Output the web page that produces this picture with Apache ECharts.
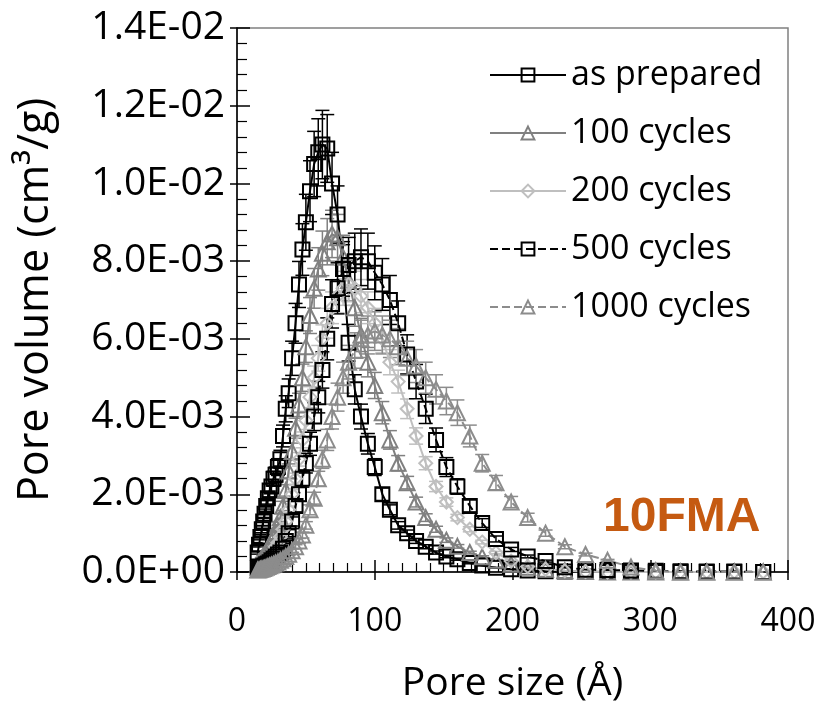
<!DOCTYPE html>
<html><head><meta charset="utf-8">
<script src="https://cdn.jsdelivr.net/npm/echarts@6/dist/echarts.min.js"></script>
<style>html,body{margin:0;padding:0;background:#fff}#c{width:823px;height:703px}</style>
</head><body><div id="c"></div><script>
const poreSize = [15,16,17,18,19,20,21.2,22.4,23.7,25,26.5,28,29.7,31.5,33.4,35.4,37.5,40,42.5,45,47.5,50,53,56,59,62,65.5,69,73,77,81,85.5,90,95,100,105.5,111,117,123.5,130,137,144.5,152,160,169,178,188,199,211,224,238,253,269,286,304,322,341,361,382];
const asPrepared = [0.0005,0.0007,0.0009,0.0011,0.0013,0.0015,0.0017,0.0019,0.0021,0.0022,0.0024,0.0025,0.0027,0.0029,0.0035,0.0042,0.0046,0.0055,0.0064,0.0074,0.0083,0.0090,0.0098,0.0105,0.0108,0.0110,0.0109,0.0100,0.0092,0.0078,0.0059,0.0047,0.0040,0.0033,0.0027,0.0020,0.0016,0.0012,0.0010,0.0008,0.00065,0.0005,0.0004,0.00033,0.00023,0.00017,0.00011,0.00007,0.00004,0.00002,0.00001,0,0,0,0,0,0,0,0];
const cycles100 = [0.0002,0.00025,0.0003,0.00035,0.0004,0.00045,0.0005,0.0006,0.0007,0.0008,0.0009,0.0010,0.0012,0.0014,0.0017,0.0021,0.0026,0.0031,0.0037,0.0043,0.0050,0.0058,0.0066,0.0073,0.0078,0.0082,0.0085,0.0087,0.0086,0.0081,0.0075,0.0068,0.0061,0.0054,0.0048,0.0041,0.0034,0.0028,0.0023,0.0018,0.0014,0.0011,0.00082,0.00066,0.0005,0.00039,0.0003,0.0002,0.00012,0.00007,0.00003,0.00001,0,0,0,0,0,0,0];
const cycles200 = [0.0001,0.00012,0.00015,0.00018,0.0002,0.00025,0.0003,0.00035,0.0004,0.00048,0.00055,0.00065,0.00075,0.0009,0.0011,0.0013,0.0016,0.0020,0.0024,0.0029,0.0034,0.0039,0.0045,0.0050,0.0055,0.0060,0.0064,0.0068,0.0071,0.0073,0.0074,0.0073,0.0071,0.0068,0.0064,0.0060,0.0054,0.0049,0.0042,0.0035,0.0028,0.0022,0.0018,0.0014,0.0011,0.00077,0.0005,0.00028,0.00014,0.00007,0.00003,0.00001,0,0,0,0,0,0,0];
const cycles500 = [0.0001,0.0001,0.00012,0.00013,0.00015,0.00017,0.0002,0.00022,0.00025,0.0003,0.00035,0.0004,0.00045,0.0005,0.0006,0.0008,0.0010,0.0013,0.0017,0.0020,0.0024,0.0028,0.0033,0.0040,0.0045,0.0052,0.0060,0.0069,0.0073,0.0078,0.0079,0.0080,0.0081,0.0080,0.0077,0.0074,0.0070,0.0064,0.0056,0.0049,0.0042,0.0034,0.0027,0.0022,0.0017,0.00126,0.00085,0.00058,0.0004,0.00028,0.00012,0.00006,0.00005,0.00004,0.00003,0.00002,0.00001,0.00001,0];
const cycles1000 = [0.00005,0.00006,0.00007,0.00008,0.00009,0.0001,0.00012,0.00014,0.00016,0.00018,0.0002,0.00023,0.00026,0.0003,0.00034,0.0004,0.00046,0.00055,0.00065,0.0008,0.00095,0.0012,0.0016,0.0019,0.0024,0.0029,0.0034,0.0040,0.0045,0.0050,0.0054,0.0057,0.0060,0.0061,0.0062,0.0061,0.0060,0.0058,0.0055,0.0053,0.0050,0.0047,0.0044,0.0041,0.0035,0.0028,0.0023,0.0018,0.0014,0.0010,0.00065,0.00045,0.0003,0.00013,0.00003,0,0,0,0];
const seriesNames = ['as prepared','100 cycles','200 cycles','500 cycles','1000 cycles'];
const relError = [0.08,0.07,0.06,0.09,0.08];
const sampleLabel = '10FMA';
const xName = 'Pore size (Å)';
const yName = 'Pore volume (cm³/g)';

const FONT = '"Open Sans", sans-serif';
const valueSets = [asPrepared, cycles100, cycles200, cycles500, cycles1000];
const styles = [
  {color:'#000000', dash:'solid', symbol:'rect', size:14},
  {color:'#808080', dash:'solid', symbol:'triangle', size:15},
  {color:'#bfbfbf', dash:'solid', symbol:'diamond', size:13},
  {color:'#000000', dash:'dashed', symbol:'rect', size:14},
  {color:'#8c8c8c', dash:'dashed', symbol:'triangle', size:15}
];

function fmtSci(v){
  if (Math.abs(v) < 1e-12) return '0.0E+00';
  const s = v.toExponential(1).split('e');
  let e = parseInt(s[1],10);
  const sign = e < 0 ? '-' : '+';
  e = Math.abs(e);
  return s[0] + 'E' + sign + (e < 10 ? '0' + e : '' + e);
}

function errRender(color){
  return function(params, api){
    const x = api.value(0), y = api.value(1), e = api.value(2);
    if (!(y > 0)) return null;
    const top = api.coord([x, y + e]);
    const bot = api.coord([x, Math.max(0, y - e)]);
    const hw = 7;
    const st = {stroke: color, lineWidth: 1.5};
    return {type:'group', children:[
      {type:'line', shape:{x1:top[0], y1:top[1], x2:bot[0], y2:bot[1]}, style:st},
      {type:'line', shape:{x1:top[0]-hw, y1:top[1], x2:top[0]+hw, y2:top[1]}, style:st},
      {type:'line', shape:{x1:bot[0]-hw, y1:bot[1], x2:bot[0]+hw, y2:bot[1]}, style:st}
    ]};
  };
}

const series = [];
valueSets.forEach(function(vals, i){
  const st = styles[i];
  series.push({
    name: 'err' + i, type: 'custom', xAxisIndex: 0, yAxisIndex: 0, z: 2,
    renderItem: errRender(st.color), silent: true,
    data: vals.map(function(v, k){ return [poreSize[k], v, v * relError[i]]; })
  });
});
valueSets.forEach(function(vals, i){
  const st = styles[i];
  series.push({
    name: seriesNames[i], type: 'line', xAxisIndex: 0, yAxisIndex: 0, z: 3,
    symbol: st.symbol, symbolSize: st.size, showAllSymbol: true,
    lineStyle: {color: st.color, width: 2, type: st.dash},
    itemStyle: {color: 'rgba(255,255,255,0)', borderColor: st.color, borderWidth: 2},
    emphasis: {disabled: true},
    data: vals.map(function(v, k){ return [poreSize[k], v]; })
  });
});

const chart = echarts.init(document.getElementById('c'));
chart.setOption({
  animation: false,
  backgroundColor: '#fff',
  grid: {left: 237, right: 35, top: 28, bottom: 131, show: true, borderColor: '#808080', borderWidth: 1.5,
         backgroundColor: 'transparent', containLabel: false, outerBoundsMode: 'none'},
  legend: {
    data: seriesNames, orient: 'vertical', left: 484, top: 53,
    itemWidth: 76, itemHeight: 16, itemGap: 24,
    textStyle: {fontFamily: FONT, fontSize: 34, color: '#000'}
  },
  xAxis: [
    {type:'value', min:0, max:400, interval:100, position:'bottom',
     axisLine:{show:true, onZero:false, lineStyle:{color:'#000', width:1.5}},
     axisTick:{show:true, inside:false, length:8, lineStyle:{color:'#000', width:1.5}},
     minorTick:{show:false}, splitLine:{show:false},
     axisLabel:{fontFamily:FONT, fontSize:32, color:'#000', margin:34},
     name: xName, nameLocation:'middle', nameGap:92,
     nameTextStyle:{fontFamily:FONT, fontSize:39, color:'#000'}},
    {type:'value', min:0, max:400, interval:100, position:'bottom', gridIndex:0,
     axisLine:{show:false, onZero:false}, axisLabel:{show:false}, splitLine:{show:false},
     axisTick:{show:true, inside:true, length:12, lineStyle:{color:'#000', width:1.5}},
     minorTick:{show:true, splitNumber:10, length:9, lineStyle:{color:'#000', width:1.2}}}
  ],
  yAxis: [
    {type:'value', min:0, max:0.014, interval:0.002, position:'left',
     axisLine:{show:true, onZero:false, lineStyle:{color:'#000', width:1.5}},
     axisTick:{show:true, inside:false, length:7, lineStyle:{color:'#000', width:1.5}},
     minorTick:{show:false}, splitLine:{show:false},
     axisLabel:{fontFamily:FONT, fontSize:39, color:'#000', margin:12, formatter: fmtSci},
     name: yName, nameLocation:'middle', nameGap:180, nameRotate:90,
     nameTextStyle:{fontFamily:FONT, fontSize:43, color:'#000'}},
    {type:'value', min:0, max:0.014, interval:0.002, position:'left', gridIndex:0,
     axisLine:{show:false, onZero:false}, axisLabel:{show:false}, splitLine:{show:false},
     axisTick:{show:true, inside:true, length:13, lineStyle:{color:'#000', width:1.5}},
     minorTick:{show:true, splitNumber:5, length:10, lineStyle:{color:'#000', width:1.2}}}
  ],
  graphic: [
    {type:'text', left: 603, top: 494, z: 10,
     style:{text: sampleLabel, font:'bold 48px "Liberation Sans", Arial, sans-serif', fill:'#C55A11'}}
  ],
  series: series
});
</script></body></html>
